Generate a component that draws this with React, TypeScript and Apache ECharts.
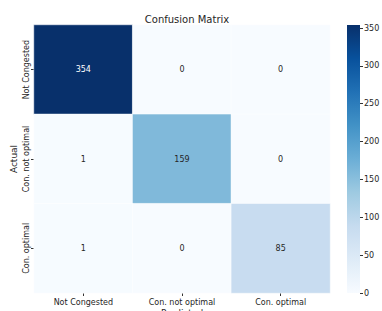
import React, { useEffect, useRef } from "react";
import * as echarts from "echarts";

const predictedLabels = ["Not Congested", "Con. not optimal", "Con. optimal"];
const actualLabels = ["Not Congested", "Con. not optimal", "Con. optimal"];
const matrixRows = [
  [354, 0, 0],
  [1, 159, 0],
  [1, 0, 85],
];
const colorbarTicks = [0, 50, 100, 150, 200, 250, 300, 350];
const colorMax = 354;

const blues = [
  "#f7fbff", "#deebf7", "#c6dbef", "#9ecae1", "#6baed6",
  "#4292c6", "#2171b5", "#08519c", "#08306b",
];

const FONT = "DejaVu Sans";

export default function App() {
  const ref = useRef<HTMLDivElement>(null);
  useEffect(() => {
    if (!ref.current) return;
    const chart = echarts.init(ref.current, null, { renderer: "svg" });
    const data: any[] = [];
    matrixRows.forEach((row, yi) => {
      row.forEach((v, xi) => {
        data.push({
          value: [xi, yi, v],
          label: { color: v > colorMax / 2 ? "#ffffff" : "#262626" },
        });
      });
    });
    const gradStops = blues.map((c, i) => ({ offset: i / (blues.length - 1), color: c }));
    chart.setOption({
      animation: false,
      backgroundColor: "#ffffff",
      textStyle: { fontFamily: FONT },
      title: {
        text: "Confusion Matrix",
        left: 182,
        top: 9,
        textAlign: "center",
        textStyle: { fontSize: 10, fontWeight: "normal", color: "#262626", fontFamily: FONT },
      },
      grid: [
        { left: 34, top: 25, width: 296, height: 268, outerBoundsMode: "none", containLabel: false },
        { left: 347, top: 25, width: 13, height: 268, outerBoundsMode: "none", containLabel: false },
      ],
      xAxis: [
        {
          type: "category",
          gridIndex: 0,
          data: predictedLabels,
          name: "Predicted",
          nameLocation: "middle",
          nameGap: 15,
          nameMoveOverlap: false,
          nameTextStyle: { fontSize: 9, color: "#262626", verticalAlign: "top" },
          axisLine: { show: false },
          axisTick: { show: true, alignWithLabel: true, length: 3, lineStyle: { color: "#333" } },
          axisLabel: { fontSize: 8, color: "#262626", margin: 5, interval: 0 },
          splitLine: { show: false },
        },
        {
          type: "category",
          gridIndex: 1,
          data: ["c"],
          show: false,
        },
      ],
      yAxis: [
        {
          type: "category",
          gridIndex: 0,
          data: actualLabels,
          inverse: true,
          name: "Actual",
          nameLocation: "middle",
          nameGap: 16,
          nameMoveOverlap: false,
          nameTextStyle: { fontSize: 9, color: "#262626" },
          axisLine: { show: false },
          axisTick: { show: true, alignWithLabel: true, length: 3, lineStyle: { color: "#333" } },
          axisLabel: {
            fontSize: 8,
            color: "#262626",
            rotate: 90,
            margin: 4,
            interval: 0,
            hideOverlap: false,
          },
        },
        {
          type: "value",
          gridIndex: 1,
          position: "right",
          min: 0,
          max: colorMax,
          interval: 50,
          axisLine: { show: false },
          axisTick: { show: true, length: 3, lineStyle: { color: "#333" }, customValues: colorbarTicks },
          axisLabel: {
            fontSize: 8,
            color: "#262626",
            margin: 4,
            customValues: colorbarTicks,
          },
          splitLine: { show: false },
        },
      ],
      visualMap: {
        show: false,
        min: 0,
        max: colorMax,
        seriesIndex: 0,
        dimension: 2,
        inRange: { color: blues },
      },
      series: [
        {
          type: "heatmap",
          xAxisIndex: 0,
          yAxisIndex: 0,
          data,
          itemStyle: { borderColor: "#ffffff", borderWidth: 0.5 },
          label: { show: true, fontSize: 8, fontFamily: FONT },
        },
        {
          type: "bar",
          xAxisIndex: 1,
          yAxisIndex: 1,
          data: [colorMax],
          barWidth: "100%",
          itemStyle: {
            color: new echarts.graphic.LinearGradient(0, 1, 0, 0, gradStops),
          },
        },
      ],
    });
    return () => chart.dispose();
  }, []);
  return (
    <div
      ref={ref}
      style={{ position: "fixed", left: 0, top: 0, width: 382, height: 311 }}
    />
  );
}
